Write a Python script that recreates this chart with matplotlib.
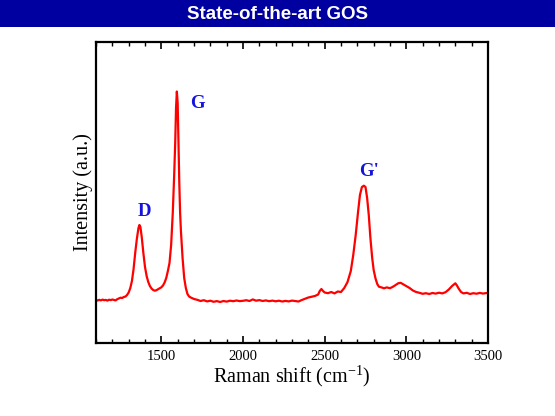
import matplotlib
matplotlib.use("Agg")
import matplotlib.pyplot as plt
from matplotlib.ticker import MultipleLocator, NullLocator

# Raman spectrum
raman_shift = [
    1100, 1110, 1120, 1130, 1140, 1150, 1160, 1170, 1180, 1190,
    1200, 1210, 1220, 1230, 1240, 1250, 1260, 1270, 1280, 1290,
    1300, 1310, 1320, 1330, 1340, 1350, 1360, 1366, 1372, 1380,
    1390, 1400, 1410, 1420, 1430, 1440, 1450, 1460, 1470, 1480,
    1490, 1500, 1510, 1520, 1530, 1540, 1550, 1560, 1570, 1578,
    1585, 1590, 1595, 1600, 1605, 1610, 1615, 1620, 1630, 1640,
    1650, 1660, 1670, 1680, 1690, 1700, 1720, 1740, 1760, 1780,
    1800, 1820, 1840, 1860, 1880, 1900, 1920, 1940, 1960, 1980,
    2000, 2020, 2040, 2060, 2080, 2100, 2120, 2140, 2160, 2180,
    2200, 2220, 2240, 2260, 2280, 2300, 2320, 2340, 2360, 2380,
    2400, 2420, 2440, 2460, 2470, 2480, 2490, 2500, 2520, 2540,
    2560, 2580, 2600, 2620, 2640, 2660, 2675, 2690, 2705, 2716,
    2728, 2740, 2750, 2760, 2770, 2780, 2791, 2800, 2811, 2822,
    2832, 2850, 2863, 2880, 2900, 2915, 2930, 2950, 2965, 2980,
    3000, 3020, 3040, 3060, 3080, 3100, 3120, 3140, 3160, 3180,
    3200, 3220, 3240, 3260, 3280, 3300, 3310, 3320, 3335, 3350,
    3370, 3390, 3410, 3430, 3450, 3470, 3490, 3500,
]
intensity = [
    43.0, 42.5, 43.2, 42.6, 43.4, 42.8, 43.1, 42.4, 43.3, 42.9,
    43.5, 43.0, 42.6, 43.8, 44.5, 45.3, 45.0, 46.0, 46.4, 48.0,
    50.5, 55.0, 62.0, 74.0, 90.0, 104.0, 115.0, 118.0, 116.0, 106.0,
    90.0, 76.0, 67.0, 61.0, 57.0, 54.5, 53.0, 52.3, 52.8, 53.8,
    54.8, 55.7, 57.5, 60.5, 65.0, 72.0, 80.0, 98.0, 130.0, 165.0,
    200.0, 235.0, 251.5, 240.0, 200.0, 160.0, 130.0, 112.0, 85.0, 65.0,
    55.0, 49.0, 46.5, 45.5, 44.7, 44.0, 43.2, 42.0, 42.8, 41.6,
    42.3, 41.2, 41.9, 41.0, 42.0, 41.4, 42.3, 41.8, 42.5, 41.9,
    42.2, 42.8, 42.0, 43.6, 42.3, 42.9, 42.0, 42.6, 41.8, 42.4,
    41.7, 42.3, 41.5, 42.1, 41.6, 42.4, 42.0, 41.5, 43.0, 44.2,
    45.5, 46.3, 47.0, 48.5, 52.0, 54.0, 52.0, 50.5, 49.8, 51.0,
    49.6, 51.5, 51.0, 55.0, 61.0, 72.0, 88.0, 108.0, 132.0, 148.0,
    156.0, 157.3, 156.0, 145.0, 128.0, 105.0, 85.0, 73.0, 64.7, 59.0,
    56.3, 55.5, 54.7, 55.6, 54.8, 56.0, 57.5, 59.7, 60.2, 58.8,
    57.0, 55.0, 52.5, 51.0, 50.2, 49.2, 49.8, 49.0, 50.0, 49.4,
    50.3, 49.6, 50.8, 53.5, 57.0, 59.7, 57.5, 54.5, 51.0, 49.6,
    50.2, 49.0, 49.8, 49.3, 50.1, 49.4, 50.0, 49.7,
]

peak_names = ["D", "G", "G'"]
peak_label_x = [1396, 1724, 2771]
peak_label_y = [131, 240, 172]

serif = ["Liberation Serif", "DejaVu Serif"]
plt.rcParams["mathtext.fontset"] = "custom"
plt.rcParams["mathtext.rm"] = "Liberation Serif"

fig = plt.figure(figsize=(5.55, 4.16), dpi=100)
fig.patch.set_facecolor("white")

# title band
band = fig.add_axes([0, 1 - 27 / 416, 1, 27 / 416])
band.set_facecolor("#0000a0")
band.set_xticks([])
band.set_yticks([])
for s in band.spines.values():
    s.set_visible(False)
band.text(0.5, 0.48, "State-of-the-art GOS", color="white", fontsize=13.5,
          fontweight="bold", ha="center", va="center",
          family=["Liberation Sans Narrow", "Liberation Sans", "DejaVu Sans"],
          transform=band.transAxes)

ax = fig.add_axes([96 / 555, 1 - 343 / 416, 392 / 555, 301 / 416])
ax.plot(raman_shift, intensity, color="#ff0000", lw=1.6)
ax.set_xlim(1100, 3500)
ax.set_ylim(0, 301)

ax.xaxis.set_major_locator(MultipleLocator(500))
ax.xaxis.set_minor_locator(MultipleLocator(100))
ax.yaxis.set_major_locator(NullLocator())
ax.tick_params(axis="x", which="both", direction="in", top=True)
ax.tick_params(axis="x", which="major", length=5, width=1.2, labelsize=10.5, pad=5)
ax.tick_params(axis="x", which="minor", length=3, width=1)
for lab in ax.get_xticklabels():
    lab.set_family(serif)
for s in ax.spines.values():
    s.set_linewidth(1.6)

for name, x, y in zip(peak_names, peak_label_x, peak_label_y):
    ax.text(x, y, name, color="#1414dc", fontsize=13.5, fontweight="bold",
            ha="center", va="center", family=serif)

ax.set_xlabel("Raman shift (cm$^{\\mathrm{-1}}$)", fontsize=14.5, family=serif, labelpad=0)
ax.set_ylabel("Intensity (a.u.)", fontsize=14.5, family=serif, labelpad=2)

fig.savefig("out.png", dpi=100)
